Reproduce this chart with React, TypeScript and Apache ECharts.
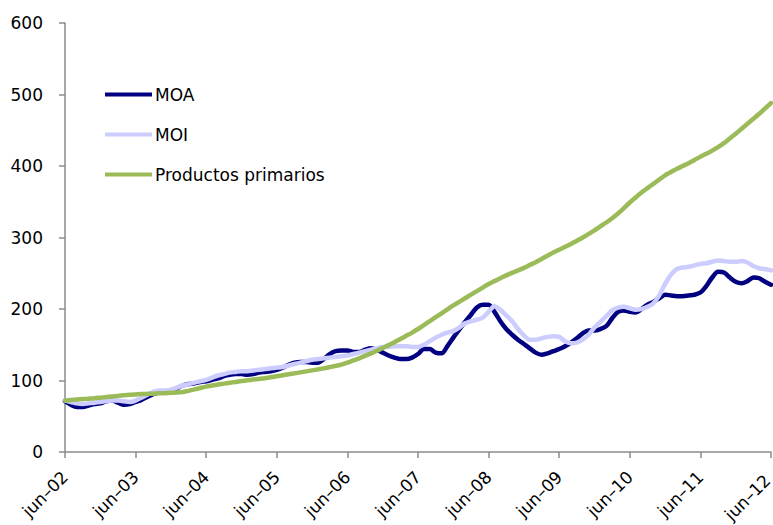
import React, { useEffect, useRef } from "react";
import * as echarts from "echarts";

const monthNames = ["jun", "jul", "ago", "sep", "oct", "nov", "dic", "ene", "feb", "mar", "abr", "may"];
const startYear = 2002;
const monthCount = 121;

const categories: string[] = [];
for (let i = 0; i < monthCount; i++) {
  const mi = i % 12;
  const yr = startYear + Math.floor((i + 5) / 12);
  categories.push(monthNames[mi] + "–" + String(yr % 100).padStart(2, "0"));
}

const yTicks = [0, 100, 200, 300, 400, 500, 600];

const moa = [
  71, 66, 63, 63, 65, 67, 68, 71, 72, 69, 66, 67,
  70, 73, 77, 81, 83, 84, 86, 89, 93, 95, 96, 98,
  99, 101, 103, 106, 108, 109, 109, 108, 109, 111, 112, 113,
  115, 118, 122, 125, 126, 126, 125, 125, 130, 137, 141, 142,
  142, 140, 140, 143, 145, 143, 139, 135, 132, 130, 130, 132,
  137, 144, 144, 139, 138, 148, 160, 171, 182, 192, 202, 206,
  206, 196, 183, 172, 164, 157, 151, 145, 139, 136, 138, 141,
  144, 148, 153, 159, 166, 170, 170, 172, 176, 187, 196, 198,
  196, 195, 200, 206, 210, 215, 220, 219, 218, 218, 219, 220,
  223, 232, 244, 252, 251, 244, 238, 236, 239, 244, 243, 238,
  234,
];

const moi = [
  72, 70, 68, 67, 68, 69, 70, 71, 72, 72, 71, 70,
  72, 76, 80, 84, 86, 86, 87, 90, 93, 95, 97, 99,
  101, 104, 107, 109, 111, 112, 113, 113, 114, 115, 116, 117,
  118, 119, 121, 123, 125, 127, 129, 130, 131, 132, 133, 134,
  135, 137, 139, 141, 143, 145, 147, 147, 148, 148, 148, 147,
  147, 150, 155, 160, 164, 167, 169, 174, 180, 183, 185, 188,
  196, 204, 199, 191, 183, 172, 163, 157, 157, 159, 161, 162,
  161, 155, 152, 153, 157, 164, 174, 182, 190, 198, 202, 203,
  201, 199, 200, 203, 208, 219, 235, 248, 256, 258, 259, 261,
  263, 264, 266, 268, 267, 266, 266, 267, 265, 260, 257, 256,
  254,
];

const primarios = [
  72, 72.7, 73.4, 74, 74.6, 75.2, 76, 76.8, 77.6, 78.5, 79.3, 80,
  80.5, 81, 81.3, 81.6, 82, 82.3, 82.7, 83.2, 84, 85.5, 87.5, 89.5,
  91.5, 93, 94.4, 95.6, 96.8, 98, 99.2, 100.3, 101.3, 102.2, 103.2, 104.5,
  106, 107.3, 108.7, 110, 111.4, 112.8, 114.2, 115.6, 117, 118.7, 120.5, 122.3,
  125, 128, 131, 134.5, 138, 141.5, 145.5, 149.5, 153.5, 158, 162.5, 167,
  172, 177.5, 183, 188.5, 194, 199.5, 205, 210, 215, 220, 225, 230,
  235, 239, 243, 247, 250.5, 254, 257.5, 261.5, 265.5, 270, 274.5, 279,
  283, 287, 291, 295.5, 300, 305, 310, 315.5, 321, 327, 333.5, 341,
  349, 356, 363, 369, 375, 381, 387, 391.5, 396, 400, 404, 408.5,
  413, 417, 421.5, 426.5, 432, 438.5, 445, 452, 459, 466, 473, 480.5,
  488,
];

const seriesNames = ["MOA", "MOI", "Productos primarios"];
const seriesColors = ["#000080", "#CCCCFF", "#9BBB59"];

const FONT = "DejaVu Sans";

export default function App() {
  const ref = useRef<HTMLDivElement>(null);
  useEffect(() => {
    if (!ref.current) return;
    const chart = echarts.init(ref.current, null, { renderer: "svg" });
    const data = [moa, moi, primarios];
    chart.setOption({
      animation: false,
      backgroundColor: "#ffffff",
      grid: { left: 65, right: 2, top: 23, bottom: 73, containLabel: false, outerBoundsMode: "none" },
      legend: {
        orient: "vertical",
        left: 105,
        top: 86,
        padding: 0,
        itemGap: 23,
        itemWidth: 47,
        itemHeight: 4,
        icon: "rect",
        data: seriesNames,
        textStyle: { fontFamily: FONT, fontSize: 17, color: "#000", padding: [0, 0, 0, -2] },
      },
      xAxis: {
        type: "category",
        data: categories,
        boundaryGap: false,
        axisLine: { show: true, lineStyle: { color: "#8c8c8c", width: 1.5 } },
        axisTick: { show: true, interval: 11, length: 6, lineStyle: { color: "#8c8c8c", width: 1.5 } },
        axisLabel: {
          interval: 11,
          rotate: 45,
          margin: 22,
          fontFamily: FONT,
          fontSize: 17,
          color: "#000",
          formatter: (v: string, idx: number) => (idx === monthCount - 1 ? "{last|" + v + "}" : v),
          rich: {
            last: { fontFamily: FONT, fontSize: 17, color: "#000", padding: [0, 5, 0, 0] },
          },
        },
        splitLine: { show: false },
      },
      yAxis: {
        type: "value",
        min: yTicks[0],
        max: yTicks[yTicks.length - 1],
        interval: 100,
        axisLine: { show: true, lineStyle: { color: "#8c8c8c", width: 1.5 } },
        axisTick: { show: true, length: 6, lineStyle: { color: "#8c8c8c", width: 1.5 } },
        axisLabel: { margin: 22, fontFamily: FONT, fontSize: 17, color: "#000" },
        splitLine: { show: false },
      },
      series: seriesNames.map((name, i) => ({
        name,
        type: "line",
        data: data[i],
        showSymbol: false,
        symbol: "none",
        smooth: 0.3,
        color: seriesColors[i],
        lineStyle: { color: seriesColors[i], width: 4.5, cap: "round", join: "round" },
        z: 2 + i,
      })),
    });
    return () => chart.dispose();
  }, []);
  return <div ref={ref} style={{ width: 773, height: 525, position: "absolute", left: 0, top: 0 }} />;
}
